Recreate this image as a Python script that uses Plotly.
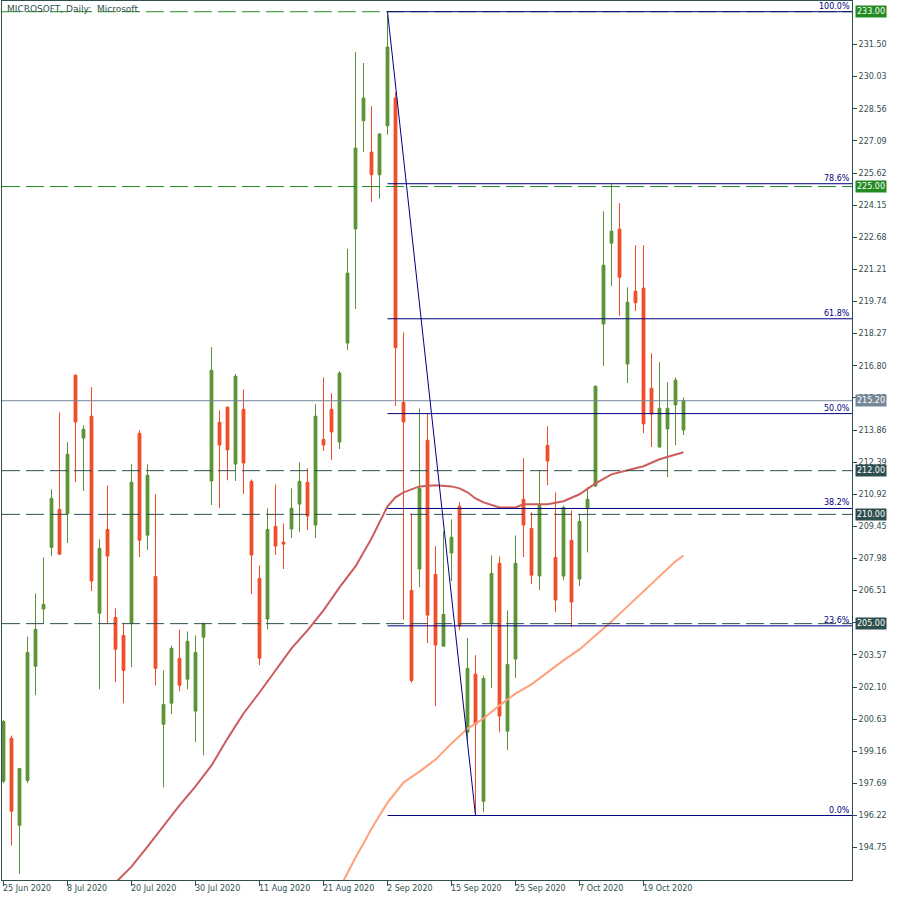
import plotly.graph_objects as go

# ---------------- data ----------------
date_labels = ["25 Jun 2020", "8 Jul 2020", "20 Jul 2020", "30 Jul 2020", "11 Aug 2020",
               "21 Aug 2020", "2 Sep 2020", "15 Sep 2020", "25 Sep 2020", "7 Oct 2020", "19 Oct 2020"]
label_bars = [0, 8, 16, 24, 32, 40, 48, 56, 64, 72, 80]

opens = [197.79, 199.76, 195.77, 197.82, 203.05, 205.67, 208.49, 210.23, 210.03, 216.37,
         213.49, 214.49, 205.48, 209.31, 205.28, 204.46, 205.00, 213.71, 209.05, 207.16,
         200.40, 201.36, 203.41, 202.46, 201.00, 204.38, 211.53, 214.21, 214.90, 212.30,
         214.81, 211.51, 207.07, 205.21, 209.45, 208.73, 209.33, 210.47, 211.47, 209.51,
         213.43, 214.81, 213.31, 217.84, 223.06, 228.01, 226.58, 225.54, 227.78, 229.05,
         215.13, 206.52, 207.50, 213.39, 207.25, 203.97, 208.23, 210.37, 200.03, 202.69,
         196.87, 205.00, 207.76, 200.08, 203.38, 210.69, 209.36, 207.18, 213.16, 208.03,
         207.18, 208.81, 207.04, 210.28, 211.30, 218.71, 222.41, 223.05, 216.88, 220.21,
         220.35, 215.77, 213.08, 213.91, 215.01, 213.86]
highs = [200.60, 199.88, 198.40, 204.41, 206.38, 208.03, 211.15, 214.67, 213.30, 216.40,
         214.08, 215.82, 208.86, 211.33, 205.70, 205.04, 212.29, 213.85, 212.29, 210.92,
         202.86, 204.00, 204.73, 204.64, 204.46, 205.05, 217.65, 214.76, 214.95, 216.42,
         215.72, 211.60, 207.67, 210.28, 211.37, 209.59, 211.19, 212.38, 212.11, 215.04,
         216.27, 215.54, 216.55, 222.15, 231.15, 230.65, 228.68, 227.45, 232.86, 229.32,
         218.33, 210.03, 214.85, 214.63, 208.54, 209.22, 209.77, 210.56, 204.34, 203.56,
         202.63, 208.12, 208.08, 205.60, 209.04, 212.57, 210.09, 212.02, 214.03, 211.01,
         210.40, 210.18, 210.01, 211.24, 215.90, 223.87, 225.11, 224.24, 220.39, 222.32,
         222.32, 217.37, 216.96, 216.04, 216.27, 215.36]
lows = [197.70, 194.85, 193.55, 197.70, 201.73, 205.00, 208.09, 208.14, 208.69, 211.48,
        211.07, 206.49, 202.00, 205.00, 202.32, 201.36, 203.01, 208.05, 208.37, 202.18,
        197.51, 200.86, 201.91, 202.00, 199.58, 198.98, 210.43, 210.29, 211.56, 211.53,
        210.93, 206.35, 203.10, 204.75, 208.14, 207.50, 208.92, 209.19, 209.28, 208.92,
        212.90, 212.49, 212.99, 217.51, 219.40, 226.59, 224.30, 224.44, 227.37, 214.96,
        205.18, 202.30, 206.67, 204.11, 201.22, 203.95, 206.95, 204.70, 199.60, 196.25,
        196.37, 202.05, 200.03, 199.21, 202.51, 208.05, 206.81, 206.53, 211.34, 205.53,
        206.99, 204.84, 206.72, 208.26, 211.25, 216.79, 220.44, 219.08, 216.01, 219.31,
        213.72, 213.08, 213.05, 211.71, 213.17, 213.63]
closes = [200.52, 196.42, 198.37, 203.68, 204.73, 205.88, 210.73, 208.18, 212.75, 214.23,
          213.89, 206.95, 208.44, 208.09, 203.83, 202.86, 211.47, 208.82, 211.79, 202.96,
          201.30, 203.87, 202.18, 204.19, 203.68, 205.00, 216.59, 213.17, 212.95, 216.32,
          212.35, 208.14, 203.42, 209.31, 208.55, 208.64, 210.28, 211.51, 209.92, 214.49,
          213.17, 213.77, 216.46, 221.04, 226.76, 229.05, 225.54, 227.40, 231.38, 217.63,
          214.23, 202.40, 211.19, 205.39, 204.02, 205.42, 208.95, 204.89, 202.95, 200.40,
          202.49, 207.30, 200.77, 203.13, 207.76, 209.51, 207.22, 210.41, 212.44, 206.08,
          210.32, 205.99, 209.68, 210.69, 215.86, 221.40, 222.96, 220.85, 219.71, 219.68,
          214.14, 214.59, 214.85, 214.85, 216.14, 215.20]

ma_fast_bars = [14, 16, 18, 20, 22, 24, 26, 28, 30, 32, 34, 36, 38, 40, 42, 44, 46, 48, 49, 50,
                52, 54, 56, 57, 58, 59, 60, 62, 64, 65, 66, 68, 70, 72, 74, 76, 78, 80, 82, 84, 85]
ma_fast_vals = [193.15, 193.88, 194.80, 195.76, 196.68, 197.55, 198.51, 199.74, 200.89, 201.85,
                202.86, 203.87, 204.69, 205.61, 206.66, 207.62, 208.90, 210.37, 210.78, 211.01,
                211.28, 211.33, 211.28, 211.19, 211.01, 210.73, 210.55, 210.32, 210.32, 210.46,
                210.46, 210.46, 210.60, 210.92, 211.42, 211.83, 212.02, 212.20, 212.52, 212.75, 212.84]

ma_slow_bars = [42, 43, 44, 45, 46, 47, 48, 49, 50, 52, 54, 56, 58, 60, 62, 64, 66, 68, 70, 72,
                74, 76, 78, 80, 82, 84, 85]
ma_slow_vals = [192.88, 193.61, 194.30, 194.94, 195.62, 196.22, 196.81, 197.27, 197.73, 198.23,
                198.78, 199.52, 200.20, 200.66, 201.26, 201.80, 202.22, 202.77, 203.32, 203.82,
                204.46, 205.10, 205.79, 206.48, 207.16, 207.85, 208.12]

green_levels = [233.00, 225.00]
slate_levels = [212.00, 210.00, 205.00]
last_price = 215.20

fib_start_bar, fib_start_price = 48, 233.00
fib_end_bar, fib_end_price = 59, 196.22
fib_pcts = [0.0, 23.6, 38.2, 50.0, 61.8, 78.6, 100.0]

ytick_vals = [194.75, 196.22, 197.69, 199.16, 200.63, 202.10, 203.57, 205.04, 206.51, 207.98,
              209.45, 210.92, 212.39, 213.86, 215.33, 216.80, 218.27, 219.74, 221.21, 222.68,
              224.15, 225.62, 227.09, 228.56, 230.03, 231.50]

# ---------------- styling ----------------
BULL = "#5b9232"
BEAR = "#f24b27"
SLATE = "#2f4f4f"
GREEN_LVL = "#228b22"
NAVY = "#000080"
PRICE_CLR = "#778899"
FONT = "DejaVu Sans"
X_RANGE = [-0.1875, 106.0625]
Y_RANGE = [193.27, 233.49]

bars = list(range(len(opens)))

fig = go.Figure()
fig.add_trace(go.Candlestick(
    x=bars, open=opens, high=highs, low=lows, close=closes,
    increasing=dict(line=dict(color=BULL, width=1), fillcolor=BULL),
    decreasing=dict(line=dict(color=BEAR, width=1), fillcolor=BEAR),
    whiskerwidth=0, hoverinfo="skip", showlegend=False))
fig.add_trace(go.Scatter(x=ma_fast_bars, y=ma_fast_vals, mode="lines",
                         line=dict(color="#cd5c5c", width=2), hoverinfo="skip", showlegend=False))
fig.add_trace(go.Scatter(x=ma_slow_bars, y=ma_slow_vals, mode="lines",
                         line=dict(color="#ffa07a", width=2), hoverinfo="skip", showlegend=False))

shapes = []
annotations = []

# horizontal levels
for lv in green_levels:
    shapes.append(dict(type="line", xref="paper", x0=0, x1=1, yref="y", y0=lv, y1=lv,
                       line=dict(color=GREEN_LVL, width=1, dash="18px,6px")))
for lv in slate_levels:
    shapes.append(dict(type="line", xref="paper", x0=0, x1=1, yref="y", y0=lv, y1=lv,
                       line=dict(color=SLATE, width=1, dash="18px,6px")))
shapes.append(dict(type="line", xref="paper", x0=0, x1=1, yref="y", y0=last_price, y1=last_price,
                   line=dict(color=PRICE_CLR, width=1)))

# fibonacci
fib_range = fib_start_price - fib_end_price
shapes.append(dict(type="line", xref="x", yref="y", x0=fib_start_bar, y0=fib_start_price,
                   x1=fib_end_bar, y1=fib_end_price, line=dict(color=NAVY, width=1)))
for pct in fib_pcts:
    lv = fib_end_price + fib_range * pct / 100.0
    shapes.append(dict(type="line", xref="x", yref="y", x0=fib_start_bar, x1=X_RANGE[1],
                       y0=lv, y1=lv, line=dict(color=NAVY, width=1)))
    annotations.append(dict(text="%.1f%%" % pct, xref="paper", x=1, xanchor="right", xshift=-1,
                            yref="y", y=lv, yanchor="bottom", showarrow=False,
                            font=dict(family=FONT, size=8, color=NAVY), borderpad=0))

# price boxes on the axis
def price_box(val, bg):
    annotations.append(dict(text="%.2f" % val, xref="paper", x=1, xanchor="left", xshift=3,
                            yref="y", y=val, yanchor="middle", showarrow=False,
                            font=dict(family=FONT, size=8, color="white"),
                            bgcolor=bg, borderpad=1))

for lv in green_levels:
    price_box(lv, GREEN_LVL)
price_box(last_price, PRICE_CLR)
for lv in slate_levels:
    price_box(lv, SLATE)

# date labels, left-aligned at their tick
for b, t in zip(label_bars, date_labels):
    annotations.append(dict(text=t, xref="x", x=b, xanchor="left", xshift=-2,
                            yref="paper", y=0, yanchor="top", yshift=-3, showarrow=False,
                            font=dict(family=FONT, size=8, color=SLATE), borderpad=0))

# title
annotations.append(dict(text="MICROSOFT, Daily:  Microsoft", xref="paper", x=0, xanchor="left",
                        xshift=4, yref="paper", y=1, yanchor="top", yshift=-2, showarrow=False,
                        font=dict(family=FONT, size=9, color=SLATE), borderpad=0))

fig.update_layout(
    width=900, height=900,
    margin=dict(l=2, r=48, t=1, b=20),
    paper_bgcolor="white", plot_bgcolor="white",
    boxgap=0.5,
    shapes=shapes, annotations=annotations,
    showlegend=False,
    xaxis=dict(range=X_RANGE, rangeslider=dict(visible=False), showgrid=False, zeroline=False,
               tickmode="array", tickvals=label_bars, ticktext=[""] * len(label_bars),
               ticks="outside", ticklen=5, tickcolor=SLATE, showline=True, mirror=True,
               linecolor=SLATE, linewidth=1),
    yaxis=dict(range=Y_RANGE, side="right", showgrid=False, zeroline=False,
               tickmode="array", tickvals=ytick_vals, ticktext=["%.2f" % v for v in ytick_vals],
               ticks="outside", ticklen=4, tickcolor=SLATE, showline=True, mirror=True,
               linecolor=SLATE, linewidth=1,
               tickfont=dict(family=FONT, size=8, color=SLATE)),
)

fig.write_html("out.html", config={"displayModeBar": False},
               post_script="document.body.style.margin='0';document.body.style.padding='0';")
